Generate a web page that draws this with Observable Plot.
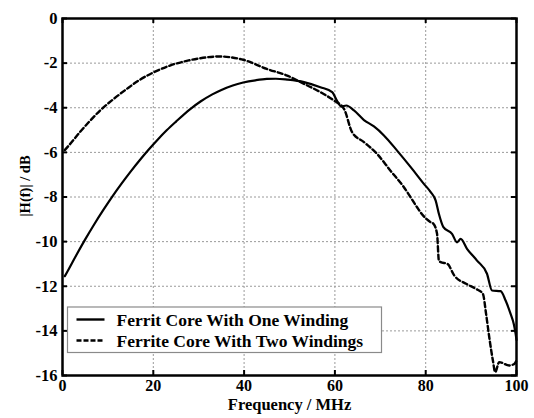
<!DOCTYPE html>
<html>
<head>
<meta charset="utf-8">
<script src="https://cdn.jsdelivr.net/npm/d3@7"></script>
<script src="https://cdn.jsdelivr.net/npm/@observablehq/plot@0.6"></script>
<style>
  html, body { margin: 0; padding: 0; background: white; }
  #chart { width: 534px; height: 418px; }
</style>
</head>
<body>
<div id="chart"></div>
<script>
// Series 1: Ferrit Core With One Winding (solid)
const oneFreq = [0.5, 1, 3, 5, 7, 9, 11, 13, 15, 17, 19, 21, 23, 25, 28, 30.4, 33, 35, 37.5, 39.8, 42.5, 45, 47, 49.5, 53.2, 56.8, 59.4, 60.5, 61.4, 62.5, 64.2, 66.4, 68.6, 70.8, 73.7, 76.7, 79.6, 81.1, 82.2, 82.9, 83.9, 85.8, 86.9, 87.7, 89.1, 91.3, 93.5, 94.6, 96.5, 97.6, 98.7, 99.4, 99.8, 100];
const oneDb   = [-11.55, -11.37, -10.62, -9.9, -9.22, -8.58, -7.97, -7.4, -6.86, -6.35, -5.87, -5.42, -5.0, -4.62, -4.08, -3.72, -3.4, -3.2, -3.0, -2.87, -2.77, -2.71, -2.7, -2.74, -2.85, -3.08, -3.3, -3.7, -3.95, -3.9, -4.12, -4.55, -4.84, -5.24, -5.92, -6.66, -7.41, -7.78, -8.16, -8.75, -9.35, -9.65, -10.03, -9.88, -10.32, -10.85, -11.44, -12.19, -12.22, -12.64, -13.24, -13.69, -14.12, -14.4];

// Series 2: Ferrite Core With Two Windings (dashed)
const twoFreq = [0.5, 1.4, 4, 6, 8.4, 11, 14.2, 17, 20, 23.8, 27.8, 30.4, 34.8, 37, 39.8, 45, 49.5, 53.2, 56.8, 59.8, 62, 63.8, 66.4, 69.3, 72.2, 75.2, 78.1, 79.1, 81.1, 81.7, 82.5, 82.9, 83.3, 84.8, 86.3, 88.9, 91.1, 92.6, 93.3, 94.1, 94.8, 95.3, 96.2, 98.4, 99.5, 100];
const twoDb   = [-5.9, -5.69, -5.05, -4.6, -4.1, -3.65, -3.15, -2.75, -2.42, -2.1, -1.88, -1.78, -1.7, -1.74, -1.85, -2.26, -2.56, -2.93, -3.3, -3.68, -4.05, -5.1, -5.54, -6.07, -6.81, -7.56, -8.46, -8.75, -9.13, -9.2, -9.65, -10.85, -10.92, -11.0, -11.52, -11.89, -12.12, -12.34, -13.24, -14.43, -15.33, -15.85, -15.4, -15.55, -15.48, -15.33];

const xTicks = [0, 20, 40, 60, 80, 100];
const yTicks = [0, -2, -4, -6, -8, -10, -12, -14, -16];
const seriesNames = ["Ferrit Core With One Winding", "Ferrite Core With Two Windings"];
const xLabel = "Frequency / MHz";
const yLabel = "|H(f)| / dB";

const one = oneFreq.map((f, i) => ({f, v: oneDb[i]}));
const two = twoFreq.map((f, i) => ({f, v: twoDb[i]}));

const font = "'Liberation Serif', 'Times New Roman', serif";
const W = 534, H = 418, mL = 62, mR = 18, mT = 18, mB = 43;
const fw = W - mL - mR, fh = H - mT - mB;

const plot = Plot.plot({
  width: W, height: H,
  marginLeft: mL, marginRight: mR, marginTop: mT, marginBottom: mB,
  style: {fontFamily: font, fontSize: "17px", fontWeight: "bold", background: "white", color: "black", overflow: "visible"},
  x: {domain: [0, 100]},
  y: {domain: [-16, 0]},
  marks: [
    Plot.gridX(xTicks, {stroke: "#9a9a9a", strokeOpacity: 1, strokeWidth: 1, strokeDasharray: "2,2"}),
    Plot.gridY(yTicks, {stroke: "#9a9a9a", strokeOpacity: 1, strokeWidth: 1, strokeDasharray: "2,2"}),
    Plot.ruleX(xTicks, {insetTop: fh - 5, stroke: "black", strokeWidth: 2}),
    Plot.ruleX(xTicks, {insetBottom: fh - 5, stroke: "black", strokeWidth: 2}),
    Plot.ruleY(yTicks, {insetRight: fw - 5, stroke: "black", strokeWidth: 2}),
    Plot.ruleY(yTicks, {insetLeft: fw - 5, stroke: "black", strokeWidth: 2}),
    Plot.line(one, {x: "f", y: "v", stroke: "black", strokeWidth: 2.2, curve: "monotone-x"}),
    Plot.line(two, {x: "f", y: "v", stroke: "black", strokeWidth: 2.4, strokeDasharray: "5,3", curve: "monotone-x"}),
    Plot.frame({stroke: "black", strokeWidth: 2.5}),
    Plot.axisX(xTicks, {tickSize: 0, tickPadding: 4, label: null, fontSize: 16}),
    Plot.axisY(yTicks, {tickSize: 0, tickPadding: 5, label: null, fontSize: 16.5, tickFormat: d => d === 0 ? "0" : "-" + Math.abs(d)}),
    Plot.text([xLabel], {text: d => d, frameAnchor: "bottom", dy: 34.5, fontSize: 16.5, fontWeight: "bold"}),
    Plot.text([yLabel], {text: d => d, frameAnchor: "left", textAnchor: "middle", rotate: -90, dx: -37, dy: -11, fontSize: 14.5, fontWeight: "bold"})
  ]
});

// Legend inside the plot, lower left
const svg = d3.select(plot);
const lg = svg.append("g").attr("font-family", font).attr("font-weight", "bold").attr("font-size", "17.5px").attr("text-anchor", "start");
const bx = mL + 5.5, by = mT + fh - 68, bw = 314, bh = 45.5;
lg.append("rect").attr("x", bx).attr("y", by).attr("width", bw).attr("height", bh)
  .attr("fill", "white").attr("stroke", "#8a8a8a").attr("stroke-width", 1.2);
seriesNames.forEach((name, i) => {
  const cy = by + 12.5 + i * 21;
  lg.append("line").attr("x1", bx + 9).attr("x2", bx + 37).attr("y1", cy).attr("y2", cy)
    .attr("stroke", "black").attr("stroke-width", 2.4)
    .attr("stroke-dasharray", i === 1 ? "5,2" : null);
  lg.append("text").attr("x", bx + 49).attr("y", cy).attr("dy", "0.35em").attr("fill", "black").text(name);
});

document.getElementById("chart").appendChild(plot);
</script>
</body>
</html>
